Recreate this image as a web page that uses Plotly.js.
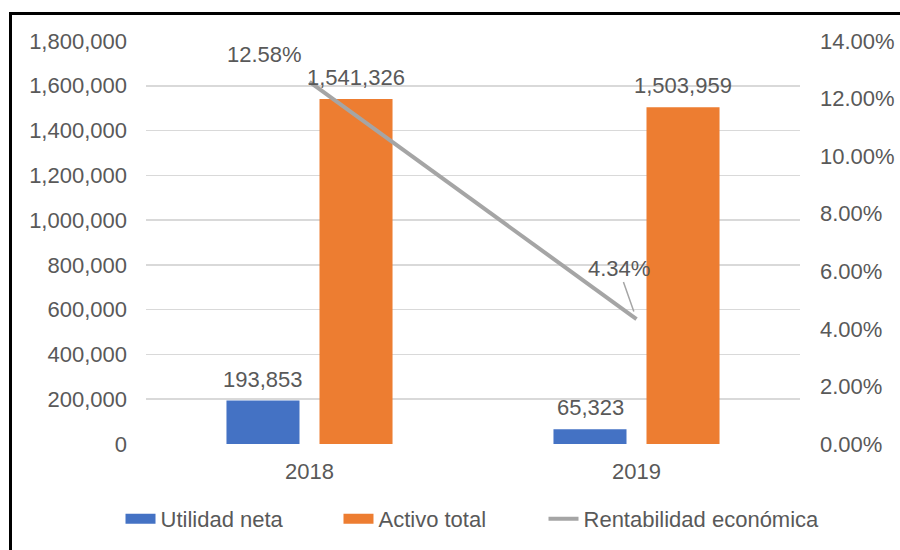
<!DOCTYPE html>
<html>
<head>
<meta charset="utf-8">
<script src="https://cdn.plot.ly/plotly-3.0.1.min.js"></script>
<style>
  html, body { margin: 0; padding: 0; background: #ffffff; }
  #wrap { position: relative; width: 900px; height: 550px; overflow: hidden; }
  #frame { position: absolute; left: 9px; top: 12px; width: 900px; height: 560px;
           border-left: 3px solid #000; border-top: 3px solid #000; pointer-events: none; }
  #chart { position: absolute; left: 0; top: 0; width: 900px; height: 550px; }
</style>
</head>
<body>
<div id="wrap">
  <div id="frame"></div>
  <div id="chart"></div>
</div>
<script>
// ---- data ----
const years = ["2018", "2019"];
const utilidadNeta = [193853, 65323];
const activoTotal = [1541326, 1503959];
const rentabilidad = [0.1258, 0.0434];
const seriesNames = ["Utilidad neta", "Activo total", "Rentabilidad económica"];

const colBlue = "#4472C4", colOrange = "#ED7D31", colGray = "#A5A5A5";
const txt = "#595959";
const FONT = "Liberation Sans, Arial, sans-serif";
const FS = 22;

const blanks = years.map(() => null);
const traces = [
  { type: "bar", x: years, y: utilidadNeta, name: seriesNames[0], marker: { color: colBlue },
    showlegend: false, yaxis: "y" },
  { type: "bar", x: years, y: activoTotal, name: seriesNames[1], marker: { color: colOrange },
    showlegend: false, yaxis: "y" },
  { type: "scatter", mode: "lines", x: years, y: rentabilidad, name: seriesNames[2],
    line: { color: colGray, width: 4 }, yaxis: "y2", showlegend: false },
  // legend proxies (wide swatches like the original), one legend each
  { type: "scatter", mode: "lines", x: years, y: blanks, name: seriesNames[0],
    line: { color: colBlue, width: 10 }, yaxis: "y", legend: "legend" },
  { type: "scatter", mode: "lines", x: years, y: blanks, name: seriesNames[1],
    line: { color: colOrange, width: 10 }, yaxis: "y", legend: "legend2" },
  { type: "scatter", mode: "lines", x: years, y: blanks, name: seriesNames[2],
    line: { color: colGray, width: 4 }, yaxis: "y", legend: "legend3" }
];

const fmtNum = v => v.toLocaleString("en-US");
const fmtPct = v => (v * 100).toFixed(2) + "%";

const annotations = [];
years.forEach((yr, i) => {
  annotations.push({ x: i, y: utilidadNeta[i], xref: "x", yref: "y", text: fmtNum(utilidadNeta[i]),
    showarrow: false, xshift: -46.5, yanchor: "bottom", yshift: 7, font: { family: FONT, size: FS, color: txt } });
  annotations.push({ x: i, y: activoTotal[i], xref: "x", yref: "y", text: fmtNum(activoTotal[i]),
    showarrow: false, xshift: 46.5, yanchor: "bottom", yshift: 7, font: { family: FONT, size: FS, color: txt } });
});
annotations.push({ x: 0, y: rentabilidad[0], xref: "x", yref: "y2", text: fmtPct(rentabilidad[0]),
  showarrow: false, xshift: -45, yshift: 27, font: { family: FONT, size: FS, color: txt } });
annotations.push({ x: 1, y: rentabilidad[1], xref: "x", yref: "y2", text: fmtPct(rentabilidad[1]),
  showarrow: true, arrowhead: 0, arrowwidth: 1.5, arrowcolor: colGray, standoff: 8,
  ax: -18, ay: -51, font: { family: FONT, size: FS, color: txt } });

const legBase = x => ({ orientation: "h", xref: "container", yref: "container",
  x: x, xanchor: "left", y: 0.0564, yanchor: "middle",
  font: { family: FONT, size: FS, color: txt }, bgcolor: "rgba(0,0,0,0)" });

const layout = {
  width: 900, height: 550,
  paper_bgcolor: "rgba(0,0,0,0)", plot_bgcolor: "rgba(0,0,0,0)",
  margin: { l: 146, r: 100, t: 41, b: 106, autoexpand: false },
  font: { family: FONT, size: FS, color: txt },
  barmode: "group", bargap: 0.431, bargroupgap: 0.215,
  showlegend: true,
  legend: legBase(0.1339),
  legend2: legBase(0.3761),
  legend3: legBase(0.6039),
  xaxis: { type: "category", categoryorder: "array", categoryarray: years,
    range: [-0.5, years.length - 0.5], showgrid: false, zeroline: false, showline: false, ticks: "",
    ticklabelstandoff: 12, tickfont: { family: FONT, size: FS, color: txt } },
  yaxis: { range: [0, 1800000], dtick: 200000, tickformat: ",d", showgrid: true,
    gridcolor: "#D9D9D9", gridwidth: 1.5, zeroline: false, showline: false, ticks: "",
    ticklabelstandoff: 18, tickfont: { family: FONT, size: FS, color: txt } },
  yaxis2: { overlaying: "y", side: "right", range: [0, 0.14], dtick: 0.02, tickformat: ".2%",
    showgrid: false, zeroline: false, showline: false, ticks: "", ticklabelstandoff: 19,
    tickfont: { family: FONT, size: FS, color: txt } },
  annotations: annotations
};

Plotly.newPlot("chart", traces, layout, { staticPlot: true, displayModeBar: false });
</script>
</body>
</html>
